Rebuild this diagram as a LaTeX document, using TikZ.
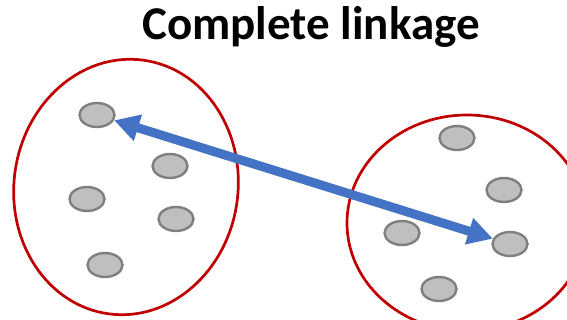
\documentclass[tikz,border=0pt]{standalone}
\usepackage{fontspec}
\setmainfont{Carlito}
\usetikzlibrary{shapes.geometric,arrows.meta}
\definecolor{clusterred}{HTML}{C00000}
\definecolor{pointfill}{HTML}{BFBFBF}
\definecolor{pointedge}{HTML}{7F7F7F}
\definecolor{linkblue}{HTML}{4472C4}
\tikzset{
  cluster/.style={draw=clusterred, line width=2.7pt, ellipse, inner sep=0pt},
  datapoint/.style={draw=pointedge, fill=pointfill, line width=2.4pt, ellipse,
    minimum width=35pt, minimum height=24pt, inner sep=0pt},
  link/.style={draw=linkblue, line width=9pt,
    {Triangle[length=25pt,width=26pt]}-{Triangle[length=25pt,width=26pt]}},
}
\begin{document}
\begin{tikzpicture}[x=1pt,y=-1pt]
  \useasboundingbox (0,0) rectangle (567,320);
  \begin{scope}
    \clip (0,0) rectangle (567,320);
    % clusters
    \node[cluster, minimum width=224pt, minimum height=256pt, rotate=-8] (A) at (126,187) {};
    \node[cluster, minimum width=240pt, minimum height=216pt] (B) at (467,223) {};
  \end{scope}
  % title
  \node[anchor=base, font=\bfseries\fontsize{47}{50}\selectfont] (title) at (311,40) {Complete linkage};
  % points of the left cluster
  \node[datapoint] (a1) at (97,115) {};
  \node[datapoint] (a2) at (170,166) {};
  \node[datapoint] (a3) at (87,199) {};
  \node[datapoint] (a4) at (176,219) {};
  \node[datapoint] (a5) at (105,265) {};
  % points of the right cluster
  \node[datapoint] (b1) at (457,138) {};
  \node[datapoint] (b2) at (504,190) {};
  \node[datapoint] (b3) at (402,233) {};
  \node[datapoint] (b4) at (510,244) {};
  \node[datapoint] (b5) at (439,289) {};
  % farthest pair
  \draw[link] (a1) -- (b4);
\end{tikzpicture}
\end{document}
